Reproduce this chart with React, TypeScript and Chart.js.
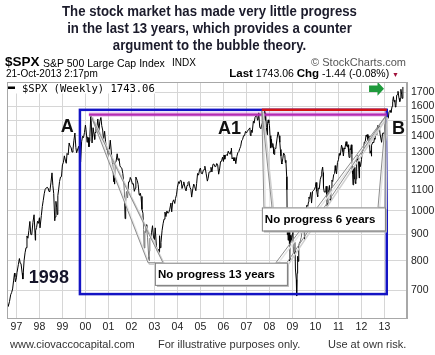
import React, { useEffect, useRef } from "react";
import { Chart, registerables } from "chart.js";

Chart.register(...registerables);

// ---- axis data ----
const xTickYears = [1997, 1998, 1999, 2000, 2001, 2002, 2003, 2004, 2005, 2006, 2007, 2008, 2009, 2010, 2011, 2012, 2013];
const xTickLabels = ["97", "98", "99", "00", "01", "02", "03", "04", "05", "06", "07", "08", "09", "10", "11", "12", "13"];
const yTickValues = [700, 800, 900, 1000, 1100, 1200, 1300, 1400, 1500, 1600, 1700];
const xMin = 1996.59;
const xMax = 2013.98;
const yMin = 619;
const yMax = 1782;

// ---- $SPX weekly-ish closes: [months elapsed in year, value] ----
const spx1996 = [[7.55, 660], [7.75, 652], [8, 652], [8.4, 667], [9, 687], [9.5, 694], [10, 705], [10.5, 731], [11, 757], [11.2, 745], [11.45, 728], [12, 741]];
const spx1997 = [[0.3, 759], [1, 786], [1.55, 808], [2, 791], [2.4, 790], [3, 757], [3.35, 737], [4, 801], [4.5, 829], [5, 848], [5.5, 894], [6, 885], [6.5, 916], [7, 954], [7.5, 900], [8, 899], [8.6, 950], [9.2, 983], [9.87, 877], [10, 915], [10.5, 928], [11, 955], [11.5, 946], [12, 970]];
const spx1998 = [[0.3, 927], [1, 980], [1.5, 1020], [2, 1049], [2.5, 1080], [3, 1102], [3.5, 1108], [4, 1112], [4.5, 1108], [5, 1091], [5.5, 1098], [6, 1134], [6.55, 1186], [7, 1121], [7.45, 1081], [8, 957], [8.13, 973], [8.6, 1044], [9, 1017], [9.3, 984], [9.6, 1071], [10, 1099], [10.5, 1141], [11, 1164], [11.5, 1166], [12, 1229]];
const spx1999 = [[0.5, 1243], [1, 1280], [1.5, 1256], [2, 1238], [2.4, 1294], [3, 1286], [3.5, 1356], [4, 1335], [4.5, 1330], [5, 1302], [5.5, 1316], [6, 1373], [6.5, 1418], [7, 1329], [7.4, 1298], [8, 1320], [8.5, 1336], [9, 1283], [9.5, 1247], [10, 1363], [10.5, 1397], [11, 1389], [11.5, 1421], [12, 1469]];
const spx2000 = [[0.3, 1441], [0.9, 1360], [1, 1394], [1.5, 1388], [1.85, 1333], [2, 1366], [2.3, 1395], [2.77, 1527], [3, 1499], [3.45, 1356], [4, 1452], [4.5, 1407], [4.83, 1378], [5, 1421], [5.5, 1464], [6, 1455], [6.45, 1510], [7, 1431], [7.5, 1492], [8, 1518], [8.1, 1520], [8.5, 1466], [9, 1437], [9.42, 1374], [10, 1429], [10.5, 1366], [11, 1315], [11.5, 1312], [11.65, 1264], [12, 1320]];
const spx2001 = [[0.5, 1319], [0.97, 1373], [1.5, 1302], [2, 1240], [2.3, 1234], [2.74, 1140], [3, 1160], [3.2, 1128], [3.6, 1243], [4, 1249], [4.55, 1292], [5, 1256], [5.5, 1265], [6, 1224], [6.5, 1215], [7, 1211], [7.5, 1182], [8, 1134], [8.3, 1093], [8.7, 966], [9, 1041], [9.4, 1091], [10, 1060], [10.5, 1139], [11, 1139], [11.4, 1162], [12, 1148]];
const spx2002 = [[0.5, 1128], [1, 1130], [1.5, 1092], [2, 1107], [2.3, 1164], [3, 1147], [3.5, 1126], [4, 1077], [4.3, 1073], [4.6, 1083], [5, 1067], [5.5, 1007], [6, 990], [6.35, 921], [6.6, 847], [7, 912], [7.35, 908], [7.75, 940], [8, 916], [8.4, 889], [9, 815], [9.13, 800], [9.37, 835], [9.6, 885], [10, 886], [10.5, 909], [11, 936], [11.5, 890], [12, 880]];
const spx2003 = [[0.4, 927], [1, 856], [1.5, 835], [2, 841], [2.23, 829], [2.45, 833], [2.68, 895], [3, 848], [3.4, 868], [4, 917], [4.5, 944], [5, 964], [5.5, 995], [6, 975], [6.5, 1000], [7, 990], [7.5, 993], [8, 1008], [8.6, 1036], [9, 996], [9.5, 1040], [10, 1051], [10.6, 1034], [11, 1058], [11.5, 1075], [12, 1112]];
const spx2004 = [[0.6, 1140], [1, 1131], [1.5, 1147], [2, 1145], [2.4, 1106], [3, 1126], [3.3, 1139], [4, 1107], [4.5, 1094], [5, 1121], [5.5, 1136], [6, 1141], [6.5, 1112], [7, 1102], [7.42, 1064], [8, 1104], [8.5, 1128], [9, 1115], [9.6, 1095], [10, 1130], [10.5, 1183], [11, 1174], [11.6, 1205], [12, 1212]];
const spx2005 = [[0.4, 1184], [1, 1181], [1.5, 1201], [2, 1204], [2.3, 1222], [3, 1181], [3.6, 1143], [4, 1157], [4.5, 1190], [5, 1192], [5.5, 1216], [6, 1191], [6.5, 1232], [7, 1234], [7.5, 1220], [8, 1220], [8.5, 1237], [9, 1229], [9.5, 1179], [10, 1207], [10.5, 1248], [11, 1249], [11.5, 1272], [12, 1248]];
const spx2006 = [[0.3, 1285], [0.7, 1261], [1, 1280], [1.5, 1287], [2, 1281], [2.5, 1307], [3, 1295], [3.5, 1289], [4, 1311], [4.15, 1325], [4.5, 1262], [5, 1270], [5.5, 1251], [6, 1270], [6.45, 1236], [7, 1277], [7.5, 1298], [8, 1304], [8.5, 1322], [9, 1336], [9.5, 1369], [10, 1378], [10.5, 1401], [11, 1401], [11.5, 1428], [12, 1418]];
const spx2007 = [[0.5, 1430], [1, 1438], [1.8, 1451], [2, 1407], [2.28, 1402], [2.6, 1436], [3, 1421], [3.6, 1495], [4, 1482], [4.5, 1522], [5, 1531], [5.4, 1532], [5.75, 1502], [6, 1503], [6.42, 1552], [6.9, 1458], [7, 1455], [7.55, 1445], [8, 1474], [8.4, 1484], [8.65, 1525], [9, 1527], [9.38, 1561], [9.62, 1500], [9.83, 1535], [10, 1549], [10.4, 1453], [10.87, 1407], [11, 1481], [11.35, 1504], [11.7, 1484], [12, 1468]];
const spx2008 = [[0.3, 1401], [0.6, 1325], [0.8, 1330], [1, 1379], [1.4, 1331], [1.75, 1353], [2, 1331], [2.2, 1294], [2.45, 1288], [2.75, 1316], [3, 1323], [3.4, 1332], [4, 1386], [4.52, 1425], [5, 1400], [5.4, 1360], [5.7, 1317], [6, 1280], [6.3, 1240], [6.48, 1234], [7, 1267], [7.4, 1296], [8, 1283], [8.3, 1242], [8.55, 1255], [9, 1166], [9.1, 1100], [9.32, 899], [9.55, 941], [9.75, 877], [10, 969], [10.25, 930], [10.45, 873], [10.7, 800], [11, 896], [11.2, 876], [11.6, 887], [12, 903]];
const spx2009 = [[0.2, 927], [0.45, 850], [0.7, 832], [1, 826], [1.3, 869], [1.55, 771], [2, 735], [2.2, 683], [2.45, 756], [2.7, 816], [3, 798], [3.3, 857], [3.55, 866], [4, 873], [4.3, 882], [4.6, 888], [5, 919], [5.4, 946], [5.7, 921], [6, 919], [6.33, 880], [6.6, 979], [7, 987], [7.5, 1026], [8, 1021], [8.4, 1042], [8.6, 1064], [9, 1057], [9.55, 1087], [9.97, 1036], [10.5, 1092], [11, 1096], [11.5, 1102], [12, 1115]];
const spx2010 = [[0.3, 1136], [0.7, 1092], [1, 1074], [1.15, 1066], [1.5, 1109], [2, 1104], [2.5, 1150], [3, 1169], [3.3, 1194], [3.75, 1217], [4, 1187], [4.2, 1110], [4.6, 1088], [5, 1089], [5.4, 1092], [5.6, 1117], [6, 1031], [6.07, 1022], [6.5, 1065], [7, 1102], [7.3, 1121], [7.6, 1072], [7.87, 1065], [8, 1049], [8.3, 1110], [8.6, 1148], [9, 1141], [9.5, 1176], [10, 1183], [10.3, 1225], [10.6, 1199], [11, 1181], [11.5, 1243], [12, 1258]];
const spx2011 = [[0.4, 1293], [0.7, 1283], [1, 1286], [1.6, 1343], [2, 1327], [2.3, 1304], [2.58, 1279], [3, 1326], [3.3, 1320], [3.97, 1364], [4.4, 1338], [4.7, 1331], [5, 1345], [5.3, 1300], [5.55, 1271], [6, 1321], [6.3, 1316], [6.7, 1345], [7, 1292], [7.15, 1199], [7.4, 1179], [7.6, 1124], [7.85, 1177], [8, 1219], [8.3, 1154], [8.55, 1216], [8.75, 1136], [9, 1131], [9.2, 1155], [9.5, 1238], [9.9, 1285], [10, 1253], [10.4, 1263], [10.83, 1159], [11, 1247], [11.5, 1220], [12, 1258]];
const spx2012 = [[0.5, 1315], [1, 1312], [1.5, 1362], [2, 1366], [2.4, 1404], [2.8, 1397], [3, 1408], [3.4, 1370], [4, 1398], [4.5, 1295], [5, 1310], [5.03, 1278], [5.5, 1343], [6, 1362], [6.4, 1357], [6.8, 1386], [7, 1379], [7.5, 1418], [8, 1407], [8.45, 1466], [9, 1441], [9.3, 1461], [9.7, 1412], [10, 1412], [10.5, 1360], [11, 1416], [11.5, 1413], [12, 1426]];
const spx2013 = [[0.4, 1472], [1, 1498], [1.7, 1516], [2, 1515], [2.4, 1561], [3, 1569], [3.4, 1555], [4, 1598], [4.3, 1633], [4.68, 1669], [5, 1631], [5.4, 1643], [5.68, 1593], [6, 1606], [6.4, 1680], [7, 1686], [7.07, 1709], [7.6, 1656], [8, 1633], [8.3, 1656], [8.58, 1725], [9, 1682], [9.25, 1656], [9.55, 1703], [9.67, 1743]];

const seriesByYear: [number, number[][]][] = [
  [1996, spx1996], [1997, spx1997], [1998, spx1998], [1999, spx1999], [2000, spx2000],
  [2001, spx2001], [2002, spx2002], [2003, spx2003], [2004, spx2004], [2005, spx2005],
  [2006, spx2006], [2007, spx2007], [2008, spx2008], [2009, spx2009], [2010, spx2010],
  [2011, spx2011], [2012, spx2012], [2013, spx2013],
];

// ---- annotations (data units) ----
const boxLeftYear = 1999.76;
const boxRightYear = 2013.1;
const boxTopValue = 1573;
const boxBottomValue = 689;
const magentaStartYear = 2000.15;
const magentaValue = 1540;
const redStartYear = 2007.67;

const callouts = [
  { text: "No progress 13 years", x0: 2003.02, x1: 2008.76, top: 793, bottom: 718 },
  { text: "No progress 6 years", x0: 2007.67, x1: 2013.02, top: 1016, bottom: 916 },
];
const wedges = [
  { tipX: 2000.24, tipV: 1531, b0: 2002.72, b1: 2003.37, baseV: 793 },
  { tipX: 2013.06, tipV: 1531, b0: 2008.28, b1: 2008.76, baseV: 793 },
  { tipX: 2007.67, tipV: 1566, b0: 2007.76, b1: 2008.11, baseV: 1016 },
  { tipX: 2013.06, tipV: 1531, b0: 2012.72, b1: 2013.02, baseV: 1016 },
];
const letters = [
  { text: "A", x: 1998.93, v: 1424 },
  { text: "A1", x: 2005.76, v: 1412 },
  { text: "B", x: 2013.33, v: 1412 },
  { text: "1998", x: 1997.54, v: 725 },
];
const arrowNote = { x0: 2012.33, x1: 2012.98, v: 1729 };
const legendText = "$SPX (Weekly) 1743.06";

const SANS = '"Liberation Sans", Arial, sans-serif';

const notesPlugin = {
  id: "notes",
  afterDatasetsDraw(chart: any) {
    const { ctx, chartArea, scales } = chart;
    const X = (v: number) => scales.x.getPixelForValue(v);
    const Y = (v: number) => scales.y.getPixelForValue(v);
    ctx.save();
    ctx.beginPath();
    ctx.rect(chartArea.left, chartArea.top, chartArea.right - chartArea.left, chartArea.bottom - chartArea.top);
    ctx.clip();

    // blue box
    ctx.strokeStyle = "#1414c4";
    ctx.lineWidth = 2.5;
    ctx.strokeRect(X(boxLeftYear), Y(boxTopValue), X(boxRightYear) - X(boxLeftYear), Y(boxBottomValue) - Y(boxTopValue));
    // magenta line
    ctx.strokeStyle = "rgba(200,80,200,0.35)";
    ctx.lineWidth = 4.5;
    ctx.beginPath();
    ctx.moveTo(X(magentaStartYear), Y(magentaValue));
    ctx.lineTo(X(boxRightYear), Y(magentaValue));
    ctx.stroke();
    ctx.strokeStyle = "#b42cb4";
    ctx.lineWidth = 2.2;
    ctx.stroke();
    // red line
    ctx.strokeStyle = "#d41414";
    ctx.lineWidth = 2.5;
    ctx.beginPath();
    ctx.moveTo(X(redStartYear), Y(boxTopValue));
    ctx.lineTo(X(boxRightYear), Y(boxTopValue));
    ctx.stroke();

    // wedges
    wedges.forEach((w) => {
      const pts = [[X(w.tipX), Y(w.tipV)], [X(w.b0), Y(w.baseV)], [X(w.b1), Y(w.baseV)]];
      ctx.beginPath();
      ctx.moveTo(pts[0][0] + 1.5, pts[0][1] + 1.5);
      ctx.lineTo(pts[1][0] + 1.5, pts[1][1] + 1.5);
      ctx.lineTo(pts[2][0] + 1.5, pts[2][1] + 1.5);
      ctx.closePath();
      ctx.strokeStyle = "#d0d0d0";
      ctx.lineWidth = 1.5;
      ctx.stroke();
      ctx.beginPath();
      ctx.moveTo(pts[0][0], pts[0][1]);
      ctx.lineTo(pts[1][0], pts[1][1]);
      ctx.lineTo(pts[2][0], pts[2][1]);
      ctx.closePath();
      ctx.fillStyle = "rgba(255,255,255,0.45)";
      ctx.fill();
      ctx.strokeStyle = "#8c8c8c";
      ctx.lineWidth = 1;
      ctx.stroke();
    });

    // callout boxes
    callouts.forEach((c) => {
      const x0 = X(c.x0), x1 = X(c.x1), y0 = Y(c.top), y1 = Y(c.bottom);
      ctx.fillStyle = "#b8b8b8";
      ctx.fillRect(x0 + 2, y0 + 2, x1 - x0, y1 - y0);
      ctx.fillStyle = "#ffffff";
      ctx.fillRect(x0, y0, x1 - x0, y1 - y0);
      ctx.strokeStyle = "#808080";
      ctx.lineWidth = 1;
      ctx.strokeRect(x0 + 0.5, y0 + 0.5, x1 - x0, y1 - y0);
      ctx.fillStyle = "#000";
      ctx.font = `bold 11.5px ${SANS}`;
      ctx.textBaseline = "middle";
      ctx.textAlign = "left";
      ctx.fillText(c.text, x0 + 3, (y0 + y1) / 2 + 1);
    });

    // letters
    ctx.font = `bold 18px ${SANS}`;
    ctx.textBaseline = "alphabetic";
    ctx.textAlign = "left";
    letters.forEach((l) => {
      ctx.fillStyle = l.text === "1998" ? "#15152a" : "#111";
      ctx.fillText(l.text, X(l.x), Y(l.v));
    });

    // green arrow
    const ax0 = X(arrowNote.x0), ax1 = X(arrowNote.x1), ay = Y(arrowNote.v);
    const headLen = 6.5;
    ctx.fillStyle = "#1f9a3c";
    ctx.beginPath();
    ctx.moveTo(ax0, ay - 3.2);
    ctx.lineTo(ax1 - headLen, ay - 3.2);
    ctx.lineTo(ax1 - headLen, ay - 7);
    ctx.lineTo(ax1, ay);
    ctx.lineTo(ax1 - headLen, ay + 7);
    ctx.lineTo(ax1 - headLen, ay + 3.2);
    ctx.lineTo(ax0, ay + 3.2);
    ctx.closePath();
    ctx.fill();

    // legend
    ctx.fillStyle = "#fff";
    ctx.fillRect(chartArea.left, chartArea.top, 148, 11.5);
    ctx.fillStyle = "#000";
    ctx.fillRect(chartArea.left + 1, chartArea.top + 4.5, 7, 2.5);
    ctx.font = '10.5px "DejaVu Sans Mono", monospace';
    ctx.textBaseline = "alphabetic";
    ctx.fillText(legendText, chartArea.left + 15, chartArea.top + 10);

    ctx.restore();

    // plot frame
    ctx.save();
    ctx.strokeStyle = "#a8a8a8";
    ctx.lineWidth = 1;
    ctx.strokeRect(chartArea.left + 0.5, chartArea.top + 0.5, chartArea.right - chartArea.left - 1, chartArea.bottom - chartArea.top);
    ctx.restore();
  },
};

const textBase = (size: number, baseline: number) => ({
  position: "absolute" as const,
  top: baseline - 0.8465 * size,
  fontSize: size,
  lineHeight: `${size}px`,
  whiteSpace: "nowrap" as const,
  fontFamily: SANS,
});

export default function App() {
  const canvasRef = useRef<HTMLCanvasElement | null>(null);

  useEffect(() => {
    const points: { x: number; y: number }[] = [];
    seriesByYear.forEach(([year, rows]) => {
      rows.forEach(([m, v]) => points.push({ x: year + m / 12, y: v }));
    });

    const chart = new Chart(canvasRef.current as HTMLCanvasElement, {
      type: "line",
      data: {
        datasets: [
          {
            data: points,
            borderColor: "#000",
            borderWidth: 1,
            pointRadius: 0,
            tension: 0,
            fill: false,
          },
        ],
      },
      options: {
        animation: false,
        responsive: false,
        maintainAspectRatio: false,
        layout: { padding: { top: 82, left: 7, right: 0, bottom: 19 } },
        plugins: { legend: { display: false }, tooltip: { enabled: false } },
        scales: {
          x: {
            type: "linear",
            min: xMin,
            max: xMax,
            afterBuildTicks: (s: any) => {
              s.ticks = xTickYears.map((v) => ({ value: v }));
            },
            afterFit: (s: any) => {
              s.height = 18;
            },
            ticks: {
              autoSkip: false,
              maxRotation: 0,
              padding: 3,
              color: "#222",
              font: { family: SANS, size: 10.5 },
              callback: (_v: any, i: number) => xTickLabels[i],
            },
            grid: { color: "#d6d6d6", drawTicks: false },
            border: { color: "#a8a8a8" },
          },
          y: {
            type: "logarithmic",
            position: "right",
            min: yMin,
            max: yMax,
            afterBuildTicks: (s: any) => {
              s.ticks = yTickValues.map((v) => ({ value: v }));
            },
            afterFit: (s: any) => {
              s.width = 28;
            },
            ticks: {
              padding: 4,
              color: "#222",
              font: { family: SANS, size: 10.5 },
              callback: (v: any) => String(v),
            },
            grid: { color: "#d6d6d6", drawTicks: false },
            border: { color: "#a8a8a8" },
          },
        },
      },
      plugins: [notesPlugin],
    } as any);
    return () => chart.destroy();
  }, []);

  return (
    <div style={{ position: "fixed", left: 0, top: 0, width: 435, height: 355, background: "#fff", overflow: "hidden" }}>
      <canvas ref={canvasRef} width={435} height={355} style={{ position: "absolute", left: 0, top: 0 }} />
      <div
        style={{
          position: "absolute",
          left: 0,
          width: 419,
          top: 3.2,
          textAlign: "center",
          fontFamily: SANS,
          fontWeight: "bold",
          fontSize: 15,
          lineHeight: "16.7px",
          color: "#1b1b2b",
          transform: "scaleX(0.88)",
          transformOrigin: "209.5px 0",
        }}
      >
        The stock market has made very little progress
        <br />
        in the last 13 years, which provides a counter
        <br />
        argument to the bubble theory.
      </div>
      <div style={{ ...textBase(13.5, 66.5), left: 5, fontWeight: "bold", color: "#000" }}>$SPX</div>
      <div style={{ ...textBase(10.5, 66.5), left: 43, color: "#000" }}>S&amp;P 500 Large Cap Index</div>
      <div style={{ ...textBase(10, 66.5), left: 172, color: "#000" }}>INDX</div>
      <div style={{ ...textBase(11, 66.5), right: 29, color: "#555" }}>© StockCharts.com</div>
      <div style={{ ...textBase(10, 77), left: 6, color: "#000" }}>21-Oct-2013 2:17pm</div>
      <div style={{ ...textBase(10.5, 77), right: 36, color: "#000" }}>
        <span style={{ fontWeight: "bold", fontSize: 11.5 }}>Last</span> 1743.06{" "}
        <span style={{ fontWeight: "bold", fontSize: 11.5 }}>Chg</span> -1.44 (-0.08%){" "}
        <span style={{ color: "#a0103a", fontSize: 7 }}>▼</span>
      </div>
      <div style={{ ...textBase(11, 348), left: 10, color: "#333" }}>www.ciovaccocapital.com</div>
      <div style={{ ...textBase(11, 348), left: 158, color: "#333" }}>For illustrative purposes only.</div>
      <div style={{ ...textBase(11, 348), left: 328, color: "#333" }}>Use at own risk.</div>
    </div>
  );
}
